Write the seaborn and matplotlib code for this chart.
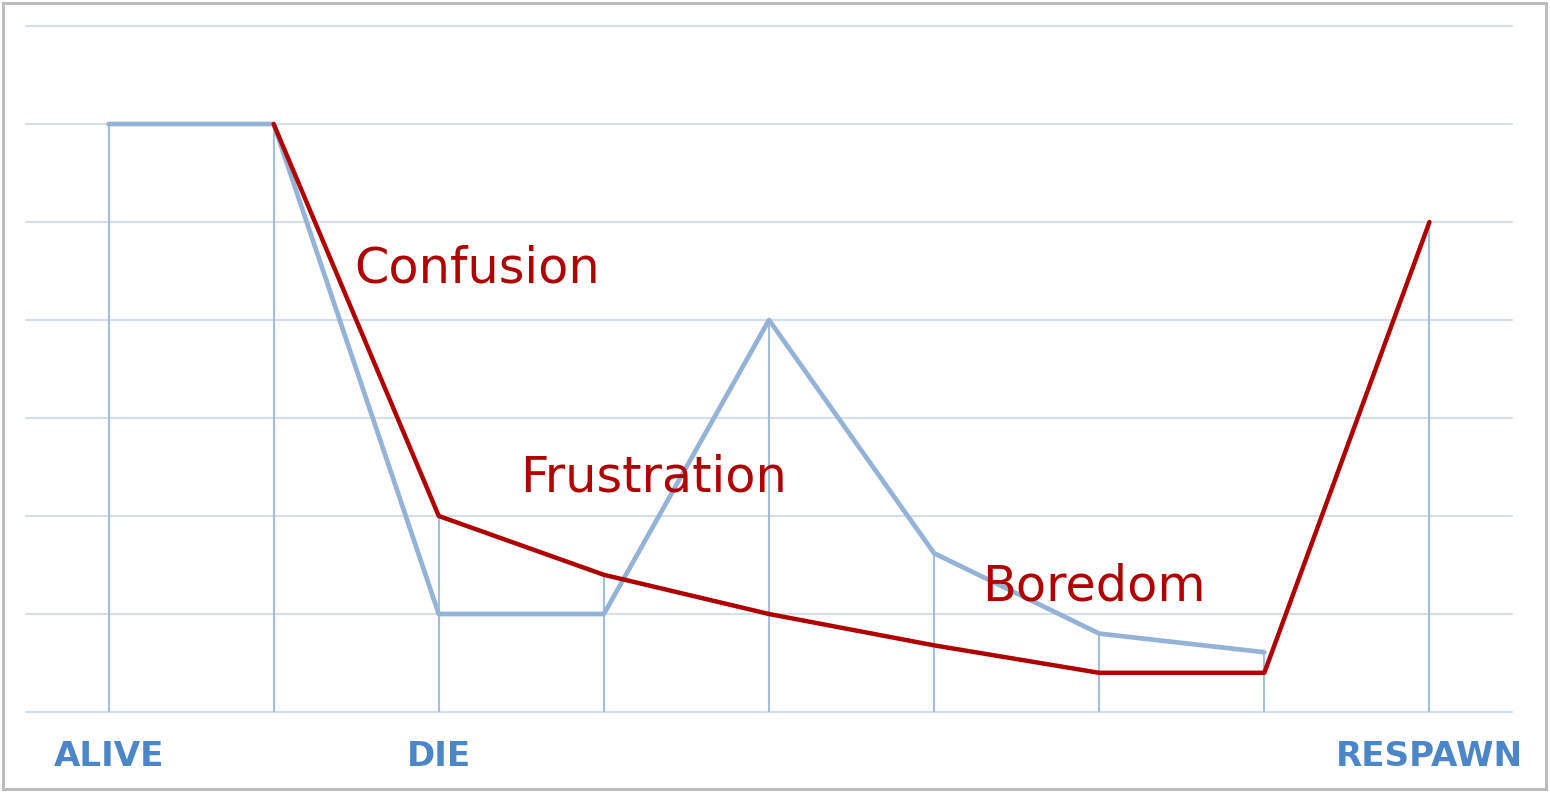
import numpy as np
import pandas as pd
import matplotlib.pyplot as plt
from matplotlib.patches import Rectangle
import seaborn as sns

# stages along the x axis (only three are labelled)
stages = ["ALIVE", "", "DIE", "", "", "", "", "", "RESPAWN"]
# light blue series (ends one step before respawn)
blue_vals = [6.0, 6.0, 1.0, 1.0, 4.0, 1.62, 0.8, 0.61, np.nan]
# dark red series (starts at the second step)
red_vals = [np.nan, 6.0, 2.0, 1.4, 1.0, 0.68, 0.4, 0.4, 5.0]
# annotation texts and where they sit (x step, y value)
notes = ["Confusion", "Frustration", "Boredom"]
note_x = [1.49, 2.49, 5.29]
note_y = [4.38, 2.25, 1.14]

blue_col = "#95b3d7"
red_col = "#b00000"

sns.set_theme(style="white")
plt.rcParams['font.family'] = ['DejaVu Sans']

fig = plt.figure(figsize=(15.5, 7.92), dpi=100)
ax = fig.add_axes([26 / 1550, 80 / 792, 1486 / 1550, 686 / 792])

steps = np.arange(len(stages))
df = pd.DataFrame({"step": steps, "blue": blue_vals, "red": red_vals})

# drop lines from the higher of the two series down to the axis
tops = df[["blue", "red"]].max(axis=1)
ax.vlines(df["step"], 0, tops, color="#a3bddb", lw=1.5, zorder=2)

sns.lineplot(data=df, x="step", y="blue", ax=ax, color=blue_col, lw=3.4,
             zorder=3, solid_capstyle="round")
sns.lineplot(data=df, x="step", y="red", ax=ax, color=red_col, lw=3.2,
             zorder=4, solid_capstyle="round")

for txt, x, y in zip(notes, note_x, note_y):
    ax.text(x, y, txt, color=red_col, fontsize=35.6, ha="left", va="baseline", zorder=5)

ax.set_xlim(-0.5, len(stages) - 0.5)
ax.set_ylim(0, 7)
ax.set_yticks(range(0, 8))
ax.set_yticklabels([])
ax.grid(axis="y", color="#d5dfe9", lw=1.5)
for g in ax.get_ygridlines():
    g.set_clip_on(False)
ax.set_axisbelow(True)
ax.set_xticks(steps)
ax.set_xticklabels(stages, fontsize=24.6, fontweight="bold", color="#4a86c8")
ax.tick_params(axis="x", length=0, pad=20)
ax.tick_params(axis="y", length=0)
ax.set_xlabel("")
ax.set_ylabel("")
for s in ax.spines.values():
    s.set_visible(False)
ax.patch.set_alpha(0)

# grey frame around the whole chart
fig.patches.append(Rectangle((2.5 / 1550, 3 / 792), 1543 / 1550, 786 / 792,
                             transform=fig.transFigure, fill=False,
                             edgecolor="#bdbdbd", lw=2.2))

fig.savefig("out.png", dpi=100)
